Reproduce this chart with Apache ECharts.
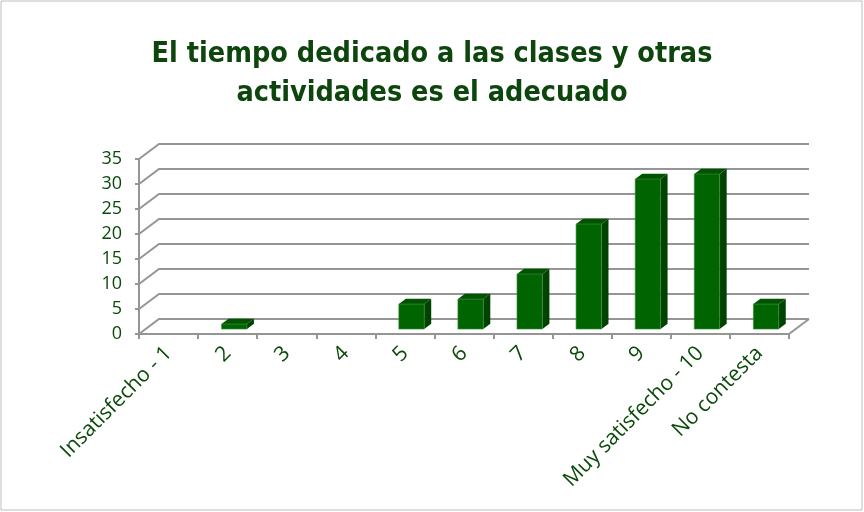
<!DOCTYPE html>
<html>
<head>
<meta charset="utf-8">
<script src="https://cdn.jsdelivr.net/npm/echarts@6/dist/echarts.min.js"></script>
<style>
  html, body { margin: 0; padding: 0; background: #fff; }
  #chart { width: 864px; height: 512px; }
</style>
</head>
<body>
<div id="chart"></div>
<script>
const categories = ['Insatisfecho - 1', '2', '3', '4', '5', '6', '7', '8', '9', 'Muy satisfecho - 10', 'No contesta']
const values = [0, 1, 0, 0, 5, 6, 11, 21, 30, 31, 5]
const yTicks = [0, 5, 10, 15, 20, 25, 30, 35]

// depth of the fake 3d box (pixels from front plane to back wall)
const DX = 20
const DY = -15
const BAR_FRONT = 0.33
const BAR_BACK = 0.68

const green = '#0b4a0b'
const gridColor = '#959595'

const chart = echarts.init(document.getElementById('chart'))

function renderGrid(params, api) {
  const t = api.value(1)
  const bw = api.size([1, 0])[0]
  const p0 = api.coord([0, t])
  const p1 = api.coord([categories.length - 1, t])
  const left = p0[0] - bw / 2
  const right = p1[0] + bw / 2
  const y = p0[1]
  const children = [{
    type: 'polyline',
    shape: { points: [[left, y], [left + DX, y + DY], [right + DX, y + DY]] },
    style: { stroke: gridColor, lineWidth: 2, fill: null },
  }]
  if (t === 0) {
    children.push({
      type: 'line',
      shape: { x1: right, y1: y, x2: right + DX, y2: y + DY },
      style: { stroke: gridColor, lineWidth: 2 },
    })
  }
  return { type: 'group', children }
}

function renderBar(params, api) {
  const v = api.value(1)
  if (!v) return null
  const i = api.value(0)
  const bw = api.size([1, 0])[0] * 0.43
  const base = api.coord([i, 0])
  const top = api.coord([i, v])
  const fx = base[0] - bw / 2 + DX * BAR_FRONT
  const fy0 = base[1] + DY * BAR_FRONT
  const fy1 = top[1] + DY * BAR_FRONT
  const ddx = DX * (BAR_BACK - BAR_FRONT)
  const ddy = DY * (BAR_BACK - BAR_FRONT)
  return {
    type: 'group',
    children: [
      {
        type: 'polygon',
        shape: { points: [[fx + bw, fy0], [fx + bw + ddx, fy0 + ddy], [fx + bw + ddx, fy1 + ddy], [fx + bw, fy1]] },
        style: { fill: '#004200' },
      },
      {
        type: 'polygon',
        shape: { points: [[fx, fy1], [fx + ddx, fy1 + ddy], [fx + bw + ddx, fy1 + ddy], [fx + bw, fy1]] },
        style: { fill: '#005400' },
      },
      {
        type: 'rect',
        shape: { x: fx, y: fy1, width: bw, height: fy0 - fy1 },
        style: { fill: '#006400', stroke: '#3f8f3f', lineWidth: 0.6 },
      },
    ],
  }
}

const option = {
  animation: false,
  title: {
    text: 'El tiempo dedicado a las clases y otras\nactividades es el adecuado',
    left: 'center',
    top: 30,
    textStyle: {
      fontFamily: '"DejaVu Sans Condensed", "DejaVu Sans", sans-serif',
      fontSize: 28.5,
      fontWeight: 'bold',
      lineHeight: 39,
      color: '#0d460d',
    },
  },
  graphic: [{
    type: 'rect',
    shape: { x: 1, y: 1, width: 861, height: 509 },
    style: { fill: null, stroke: '#bdbdbd', lineWidth: 1 },
    silent: true,
  }],
  grid: { left: 139, right: 75, top: 159, bottom: 178 },
  xAxis: {
    type: 'category',
    data: categories,
    boundaryGap: true,
    axisLine: { show: true, lineStyle: { color: gridColor, width: 2 } },
    axisTick: { show: true, length: 5, lineStyle: { color: gridColor, width: 2 } },
    axisLabel: {
      interval: 0,
      rotate: 45,
      margin: 16,
      color: green,
      fontSize: 21,
      fontFamily: '"Open Sans", sans-serif',
    },
    splitLine: { show: false },
  },
  yAxis: {
    type: 'value',
    min: 0,
    max: 35,
    interval: 5,
    axisLine: { show: true, lineStyle: { color: gridColor, width: 2 } },
    axisTick: { show: true, length: 4, lineStyle: { color: gridColor, width: 2 } },
    axisLabel: {
      margin: 17,
      color: green,
      fontSize: 18,
      fontFamily: '"Open Sans", sans-serif',
    },
    splitLine: { show: false },
  },
  series: [
    {
      type: 'custom',
      renderItem: renderGrid,
      data: yTicks.map(t => [0, t]),
      z: 1,
      silent: true,
    },
    {
      type: 'custom',
      renderItem: renderBar,
      data: values.map((v, i) => [i, v]),
      z: 3,
    },
  ],
}

chart.setOption(option)
</script>
</body>
</html>
